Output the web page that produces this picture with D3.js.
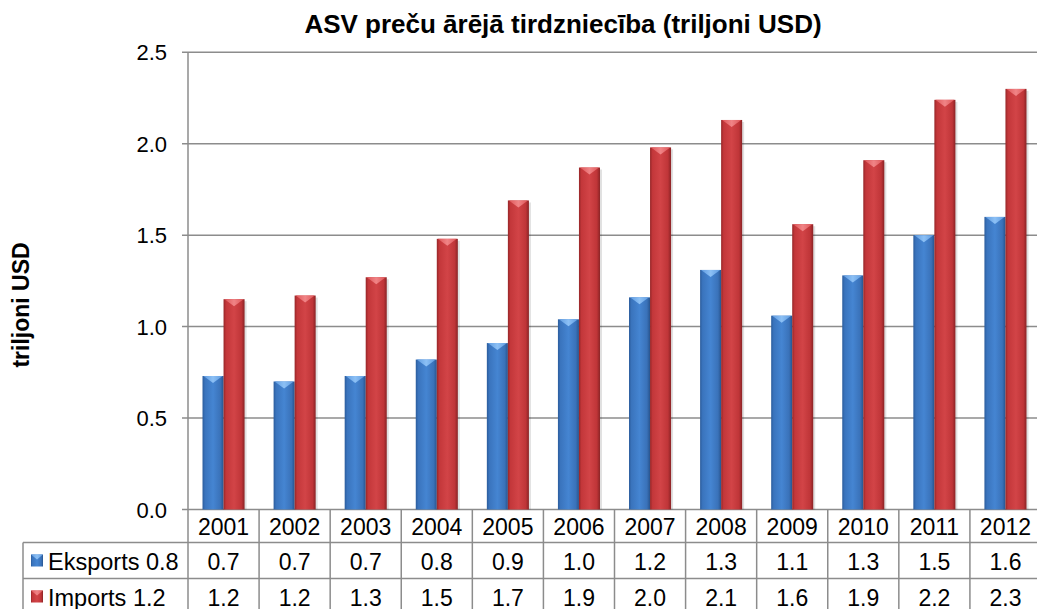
<!DOCTYPE html>
<html>
<head>
<meta charset="utf-8">
<script src="https://cdn.jsdelivr.net/npm/d3@7"></script>
<style>
  body { margin: 0; background: #fff; }
  text { font-family: "Liberation Sans", Arial, sans-serif; fill: #000; }
</style>
</head>
<body>
<svg id="chart" width="1037" height="609"></svg>
<script>
// data
var years = ["2001", "2002", "2003", "2004", "2005", "2006", "2007", "2008", "2009", "2010", "2011", "2012"];
var eksports = [0.73, 0.70, 0.73, 0.82, 0.91, 1.04, 1.16, 1.31, 1.06, 1.28, 1.50, 1.60];
var imports = [1.15, 1.17, 1.27, 1.48, 1.69, 1.87, 1.98, 2.13, 1.56, 1.91, 2.24, 2.30];
// values as printed in the data table
var eksportsTable = ["0.7", "0.7", "0.7", "0.8", "0.9", "1.0", "1.2", "1.3", "1.1", "1.3", "1.5", "1.6"];
var importsTable = ["1.2", "1.2", "1.3", "1.5", "1.7", "1.9", "2.0", "2.1", "1.6", "1.9", "2.2", "2.3"];
var seriesNames = ["Eksports 0.8", "Imports 1.2"];
var yTicks = [0, 0.5, 1.0, 1.5, 2.0, 2.5];

var svg = d3.select("#chart");
var plotLeft = 188, plotRight = 1041, plotTop = 52.3, zero = 509.5;
var rowH = [33, 36, 36];

var x = d3.scaleBand().domain(years).range([plotLeft, plotRight]).paddingInner(0).paddingOuter(0);
var xs = d3.scaleBand().domain([0, 1]).range([0, x.bandwidth()]).paddingInner(0).paddingOuter(0.69);
var y = d3.scaleLinear().domain([0, 2.5]).range([zero, plotTop]);

// gradients for the bars
var defs = svg.append("defs");
function grad(id, stops) {
    var g = defs.append("linearGradient").attr("id", id)
        .attr("x1", "0").attr("y1", "0").attr("x2", "1").attr("y2", "0");
    stops.forEach(function (s) {
        g.append("stop").attr("offset", s[0]).attr("stop-color", s[1]);
    });
}
grad("blueBar", [[0, "#2b5c9c"], [0.12, "#3a74bd"], [0.5, "#4585d2"], [0.85, "#3a72b9"], [1, "#28548e"]]);
grad("redBar", [[0, "#962628"], [0.12, "#c3373a"], [0.5, "#d24447"], [0.85, "#bf3538"], [1, "#8a2325"]]);
grad("blueCap", [[0, "#5f9be0"], [0.5, "#8cc0f5"], [1, "#5f9be0"]]);
grad("redCap", [[0, "#de5558"], [0.5, "#f08486"], [1, "#de5558"]]);

// gridlines
svg.append("g").selectAll("line")
    .data(yTicks)
    .enter().append("line")
    .attr("x1", plotLeft - 6).attr("x2", plotRight)
    .attr("y1", function (d) { return y(d); })
    .attr("y2", function (d) { return y(d); })
    .style("stroke", "#8c8c8c")
    .style("stroke-width", 1.5);

// y axis line
svg.append("line")
    .attr("x1", plotLeft).attr("x2", plotLeft)
    .attr("y1", plotTop).attr("y2", zero)
    .style("stroke", "#8c8c8c").style("stroke-width", 1.5);

// tick labels
svg.append("g").selectAll("text")
    .data(yTicks)
    .enter().append("text")
    .attr("x", 167)
    .attr("y", function (d) { return y(d) + 8; })
    .attr("text-anchor", "end")
    .style("font-size", "22px")
    .text(function (d) { return d3.format(".1f")(d); });

// bars
var series = [
    { values: eksports, body: "url(#blueBar)", cap: "url(#blueCap)" },
    { values: imports, body: "url(#redBar)", cap: "url(#redCap)" }
];
series.forEach(function (s, si) {
    var g = svg.append("g");
    var w = xs.bandwidth();
    // faint shadow
    g.selectAll(".shadow")
        .data(s.values)
        .enter().append("rect")
        .attr("x", function (d, i) { return x(years[i]) + xs(si) + 2; })
        .attr("y", function (d) { return y(d) + 2; })
        .attr("width", w)
        .attr("height", function (d) { return zero - y(d) - 2; })
        .style("fill", "#000").style("opacity", 0.12);
    g.selectAll(".bar")
        .data(s.values)
        .enter().append("rect")
        .attr("x", function (d, i) { return x(years[i]) + xs(si); })
        .attr("y", function (d) { return y(d); })
        .attr("width", w)
        .attr("height", function (d) { return zero - y(d); })
        .style("fill", s.body);
    g.selectAll(".cap")
        .data(s.values)
        .enter().append("polygon")
        .attr("points", function (d, i) {
            var bx = x(years[i]) + xs(si), by = y(d);
            return [[bx + 1, by], [bx + w - 1, by], [bx + w / 2, by + 7]].join(" ");
        })
        .style("fill", s.cap);
});

// data table
var lineColor = "#8c8c8c";
var rowTop = [zero, zero + rowH[0], zero + rowH[0] + rowH[1], zero + rowH[0] + rowH[1] + rowH[2]];
var tbl = svg.append("g");
// horizontal lines
[1, 2, 3].forEach(function (r) {
    tbl.append("line").attr("x1", 23).attr("x2", plotRight)
        .attr("y1", rowTop[r]).attr("y2", rowTop[r])
        .style("stroke", lineColor).style("stroke-width", 1.5);
});
// vertical lines
tbl.selectAll(".vline")
    .data(years.concat(["end"]))
    .enter().append("line")
    .attr("x1", function (d) { return d === "end" ? plotRight : x(d); })
    .attr("x2", function (d) { return d === "end" ? plotRight : x(d); })
    .attr("y1", zero).attr("y2", rowTop[3])
    .style("stroke", lineColor).style("stroke-width", 1.5);
tbl.append("line").attr("x1", 23).attr("x2", 23)
    .attr("y1", rowTop[1]).attr("y2", rowTop[3])
    .style("stroke", lineColor).style("stroke-width", 1.5);

// header years
tbl.selectAll(".year")
    .data(years)
    .enter().append("text")
    .attr("x", function (d) { return x(d) + x.bandwidth() / 2; })
    .attr("y", rowTop[0] + 25)
    .attr("text-anchor", "middle")
    .style("font-size", "23px")
    .text(function (d) { return d; });

[eksportsTable, importsTable].forEach(function (vals, r) {
    tbl.selectAll(".v" + r)
        .data(vals)
        .enter().append("text")
        .attr("x", function (d, i) { return x(years[i]) + x.bandwidth() / 2; })
        .attr("y", rowTop[r + 1] + 27)
        .attr("text-anchor", "middle")
        .style("font-size", "23px")
        .text(function (d) { return d; });
});

// legend keys and labels
var keyFill = [["url(#blueBar)", "url(#blueCap)"], ["url(#redBar)", "url(#redCap)"]];
seriesNames.forEach(function (name, r) {
    var ky = rowTop[r + 1] + 12;
    tbl.append("rect").attr("x", 31).attr("y", ky).attr("width", 12).attr("height", 12)
        .style("fill", keyFill[r][0]);
    tbl.append("polygon")
        .attr("points", [[31, ky], [43, ky], [37, ky + 5]].join(" "))
        .style("fill", keyFill[r][1]);
    tbl.append("text")
        .attr("x", 48).attr("y", rowTop[r + 1] + 27)
        .style("font-size", "23.5px")
        .text(name);
});

// title
svg.append("text")
    .attr("x", 563).attr("y", 33)
    .attr("text-anchor", "middle")
    .style("font-size", "26px").style("font-weight", "bold")
    .text("ASV preču ārējā tirdzniecība (triljoni USD)");

// y axis title
svg.append("text")
    .attr("transform", "translate(29,305) rotate(-90)")
    .attr("text-anchor", "middle")
    .style("font-size", "23px").style("font-weight", "bold")
    .text("triljoni USD");
</script>
</body>
</html>
